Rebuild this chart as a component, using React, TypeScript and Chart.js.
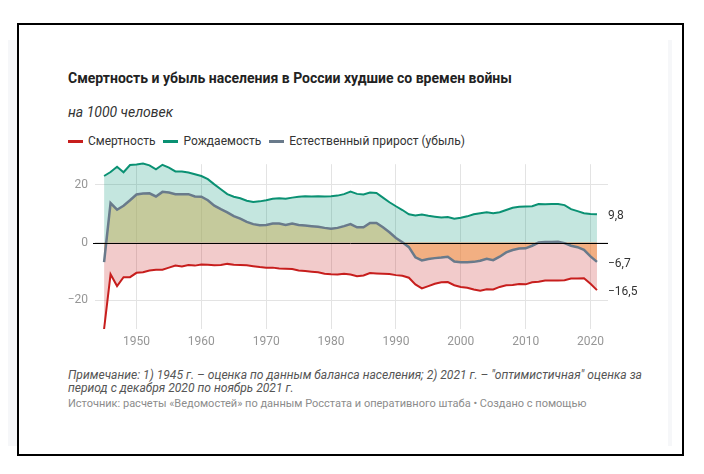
import React, { useEffect, useRef } from "react";
import { Chart, registerables } from "chart.js";

Chart.register(...registerables);

const years = [
  1945, 1946, 1947, 1948, 1949, 1950, 1951, 1952, 1953, 1954, 1955, 1956, 1957,
  1958, 1959, 1960, 1961, 1962, 1963, 1964, 1965, 1966, 1967, 1968, 1969, 1970,
  1971, 1972, 1973, 1974, 1975, 1976, 1977, 1978, 1979, 1980, 1981, 1982, 1983,
  1984, 1985, 1986, 1987, 1988, 1989, 1990, 1991, 1992, 1993, 1994, 1995, 1996,
  1997, 1998, 1999, 2000, 2001, 2002, 2003, 2004, 2005, 2006, 2007, 2008, 2009,
  2010, 2011, 2012, 2013, 2014, 2015, 2016, 2017, 2018, 2019, 2020, 2021,
];

// смертность (отрицательные значения, на 1000 человек)
const deathRate = [
  -30.0, -11.0, -15.1, -12.0, -12.0, -10.5, -10.3, -9.7, -9.4, -9.4, -8.7, -8.0,
  -8.3, -7.8, -8.0, -7.6, -7.7, -7.9, -7.8, -7.4, -7.7, -7.8, -7.9, -8.2, -8.5,
  -8.7, -8.7, -9.0, -9.1, -9.2, -9.7, -9.9, -10.1, -10.3, -10.8, -11.0, -11.1,
  -10.8, -11.1, -11.7, -11.4, -10.6, -10.7, -10.8, -10.9, -11.3, -11.5, -12.2,
  -14.5, -15.9, -15.1, -14.3, -13.8, -13.7, -14.8, -15.4, -15.7, -16.3, -16.7,
  -16.2, -16.3, -15.4, -14.8, -14.7, -14.4, -14.5, -13.8, -13.6, -13.2, -13.2,
  -13.2, -13.1, -12.5, -12.5, -12.4, -14.3, -16.5,
];

// рождаемость
const birthRate = [
  23.1, 24.5, 26.3, 24.4, 26.9, 27.1, 27.4, 26.8, 25.4, 27.0, 26.0, 24.7, 24.7,
  24.3, 23.7, 23.1, 22.0, 20.2, 18.5, 16.8, 15.9, 15.4, 14.5, 14.1, 14.3, 14.7,
  15.2, 15.4, 15.2, 15.6, 15.9, 16.1, 16.0, 16.1, 16.0, 16.1, 16.3, 16.8, 17.7,
  16.9, 16.7, 17.4, 17.2, 15.6, 14.0, 12.6, 11.3, 9.8, 9.4, 9.7, 9.3, 9.0, 8.7,
  8.9, 8.3, 8.6, 9.1, 9.8, 10.2, 10.5, 10.2, 10.5, 11.3, 12.1, 12.4, 12.5, 12.6,
  13.4, 13.3, 13.4, 13.4, 13.0, 11.6, 10.9, 10.2, 9.9, 9.8,
];

// естественный прирост (убыль)
const naturalIncrease = [
  -6.8, 13.7, 11.4, 12.8, 14.7, 16.7, 17.0, 17.1, 16.0, 17.6, 17.4, 16.8, 16.8,
  16.8, 16.0, 15.9, 14.7, 12.8, 11.6, 10.5, 9.2, 8.3, 7.2, 6.4, 6.0, 6.1, 6.6,
  6.6, 6.1, 6.6, 6.1, 5.9, 5.7, 5.5, 5.1, 4.8, 5.1, 5.7, 6.4, 5.3, 5.3, 6.8, 6.8,
  5.3, 3.6, 1.6, 0.1, -1.6, -5.1, -6.2, -5.7, -5.4, -5.2, -4.9, -6.6, -6.8, -6.8,
  -6.7, -6.3, -5.6, -6.1, -4.9, -3.4, -2.6, -2.1, -2.0, -1.1, 0.0, 0.2, 0.2, 0.3,
  -0.2, -1.1, -1.6, -2.5, -4.8, -6.7,
];

const seriesNames = ["Смертность", "Рождаемость", "Естественный прирост (убыль)"];
const seriesColors = ["#c71e1d", "#0a9173", "#697a8b"];

const xTicks = [1950, 1960, 1970, 1980, 1990, 2000, 2010, 2020];
const yTicks = [-20, 0, 20];

const FONT = "Roboto, 'Noto Sans', sans-serif";

const fmt = (v: number) =>
  v.toFixed(1).replace(".", ",").replace("-", "\u2212");

const toPoints = (vals: number[]) => vals.map((v, i) => ({ x: years[i], y: v }));

const App: React.FC = () => {
  const canvasRef = useRef<HTMLCanvasElement | null>(null);
  const chartRef = useRef<Chart | null>(null);

  useEffect(() => {
    if (!canvasRef.current) return;
    const ctx = canvasRef.current.getContext("2d");
    if (!ctx) return;
    if (chartRef.current) chartRef.current.destroy();

    // чёрная нулевая линия поверх заливок
    const zeroLine = {
      id: "zeroLine",
      afterDatasetsDraw(chart: any) {
        const { ctx, chartArea, scales } = chart;
        const y = Math.round(scales.y.getPixelForValue(0)) + 0.5;
        ctx.save();
        ctx.strokeStyle = "#000";
        ctx.lineWidth = 1;
        ctx.beginPath();
        ctx.moveTo(chartArea.left - 2, y);
        ctx.lineTo(chartArea.right, y);
        ctx.stroke();
        ctx.restore();
      },
    };

    // подписи последних значений справа
    const endLabels = {
      id: "endLabels",
      afterDraw(chart: any) {
        const { ctx, scales } = chart;
        ctx.save();
        ctx.font = `12px ${FONT}`;
        ctx.fillStyle = "#333";
        ctx.textBaseline = "middle";
        ctx.textAlign = "left";
        chart.data.datasets.forEach((ds: any) => {
          const last = ds.data[ds.data.length - 1];
          const x = scales.x.getPixelForValue(last.x) + 11;
          const y = scales.y.getPixelForValue(last.y) + 2;
          ctx.fillText(fmt(last.y), x, y);
        });
        ctx.restore();
      },
    };

    chartRef.current = new Chart(ctx, {
      type: "line",
      data: {
        datasets: [
          {
            label: seriesNames[2],
            data: toPoints(naturalIncrease),
            borderColor: seriesColors[2],
            borderWidth: 2.5,
            pointRadius: 0,
            tension: 0,
            clip: false,
            fill: {
              target: "origin",
              above: "rgba(198, 173, 89, 0.5)",
              below: "rgba(242, 148, 58, 0.5)",
            },
            order: 0,
          },
          {
            label: seriesNames[1],
            data: toPoints(birthRate),
            borderColor: seriesColors[1],
            backgroundColor: "rgba(0, 145, 115, 0.23)",
            borderWidth: 2,
            pointRadius: 0,
            tension: 0,
            clip: false,
            fill: "origin",
            order: 1,
          },
          {
            label: seriesNames[0],
            data: toPoints(deathRate),
            borderColor: seriesColors[0],
            backgroundColor: "rgba(199, 30, 29, 0.23)",
            borderWidth: 2,
            pointRadius: 0,
            tension: 0,
            clip: false,
            fill: "origin",
            order: 2,
          },
        ],
      },
      options: {
        animation: false,
        responsive: true,
        maintainAspectRatio: false,
        layout: { padding: { top: 13, bottom: 7, left: 0, right: 52 } },
        plugins: {
          legend: { display: false },
          tooltip: { enabled: false },
        },
        scales: {
          x: {
            type: "linear",
            min: 1943.6,
            max: 2022.7,
            afterBuildTicks: (scale: any) => {
              scale.ticks = xTicks.map((v) => ({ value: v }));
            },
            afterFit: (scale: any) => {
              scale.height = 24;
            },
            grid: { color: "#e3e3e3", drawTicks: false },
            border: { display: false },
            ticks: {
              padding: 6,
              color: "#969696",
              font: { family: FONT, size: 12 },
              callback: (v: any) => String(v),
            },
          },
          y: {
            min: -30,
            max: 27.2,
            afterBuildTicks: (scale: any) => {
              scale.ticks = yTicks.map((v) => ({ value: v }));
            },
            afterFit: (scale: any) => {
              scale.width = 55;
            },
            grid: { color: "#e3e3e3", drawTicks: false },
            border: { display: false },
            ticks: {
              padding: 7,
              color: "#969696",
              font: { family: FONT, size: 12 },
              callback: (v: any) => fmt(Number(v)).replace(",0", ""),
            },
          },
        },
      },
      plugins: [zeroLine, endLabels],
    });

    return () => {
      if (chartRef.current) {
        chartRef.current.destroy();
        chartRef.current = null;
      }
    };
  }, []);

  const legendOrder = [0, 1, 2];

  return (
    <div style={{ position: "relative", width: 688, height: 458, fontFamily: FONT }}>
      {/* светло-серая подложка */}
      <div
        style={{
          position: "absolute",
          left: 0,
          top: 32,
          width: 664,
          height: 406,
          background: "#f6f7f9",
        }}
      />
      <div
        style={{
          position: "absolute",
          left: 9,
          top: 32,
          width: 651,
          height: 406,
          background: "#fff",
        }}
      />
      <div
        style={{
          position: "absolute",
          left: 9,
          top: 15,
          width: 667,
          height: 433,
          boxSizing: "border-box",
          border: "2px solid #000",
        }}
      />

      <div
        style={{
          position: "absolute",
          left: 60,
          top: 63,
          fontSize: 14,
          lineHeight: "14px",
          fontWeight: 700,
          color: "#222",
          whiteSpace: "nowrap",
        }}
      >
        Смертность и убыль населения в России худшие со времен войны
      </div>
      <div
        style={{
          position: "absolute",
          left: 60,
          top: 96.5,
          fontSize: 14,
          lineHeight: "14px",
          fontStyle: "italic",
          color: "#333",
          whiteSpace: "nowrap",
        }}
      >
        на 1000 человек
      </div>
      <div
        style={{
          position: "absolute",
          left: 60,
          top: 127,
          fontSize: 12,
          lineHeight: "13px",
          color: "#333",
          display: "flex",
          alignItems: "center",
          whiteSpace: "nowrap",
        }}
      >
        {legendOrder.map((i) => (
          <span
            key={i}
            style={{ display: "inline-flex", alignItems: "center", marginRight: 8 }}
          >
            <span
              style={{
                display: "inline-block",
                width: 15,
                height: 2.5,
                background: seriesColors[i],
                marginRight: 5,
              }}
            />
            {seriesNames[i]}
          </span>
        ))}
      </div>

      <div
        style={{
          position: "absolute",
          left: 32,
          top: 142,
          width: 620,
          height: 210,
        }}
      >
        <canvas ref={canvasRef} />
      </div>

      <div
        style={{
          position: "absolute",
          left: 60,
          top: 361,
          fontSize: 12.1,
          lineHeight: "13px",
          fontStyle: "italic",
          color: "#555",
          whiteSpace: "nowrap",
        }}
      >
        Примечание: 1) 1945 г. – оценка по данным баланса населения; 2) 2021 г. – "оптимистичная" оценка за
        <br />
        период с декабря 2020 по ноябрь 2021 г.
      </div>
      <div
        style={{
          position: "absolute",
          left: 60,
          top: 390,
          fontSize: 11,
          lineHeight: "11px",
          color: "#8c8c8c",
          whiteSpace: "nowrap",
        }}
      >
        Источник: расчеты «Ведомостей» по данным Росстата и оперативного штаба • Создано с помощью
      </div>
    </div>
  );
};

export default App;
